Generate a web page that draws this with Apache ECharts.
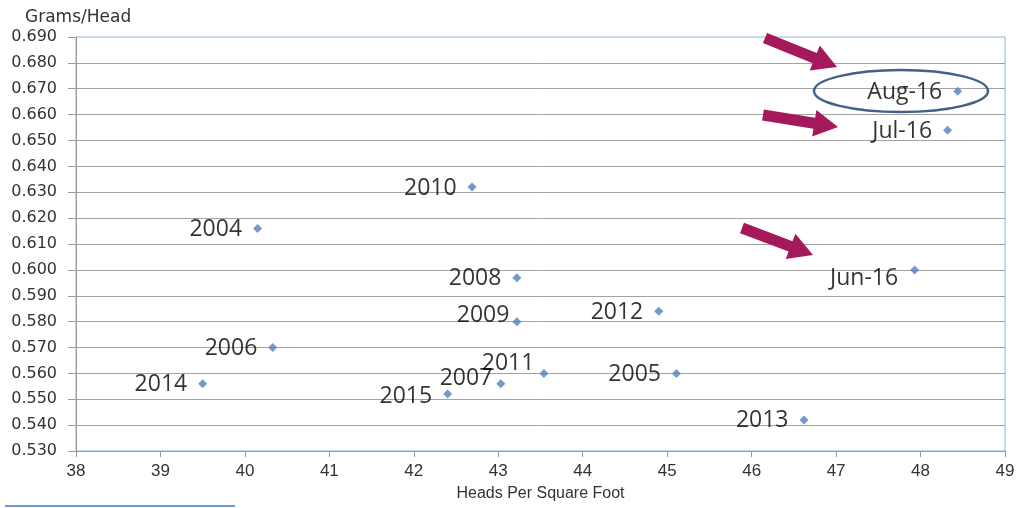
<!DOCTYPE html>
<html>
<head>
<meta charset="utf-8">
<script src="https://cdn.jsdelivr.net/npm/echarts@6/dist/echarts.min.js"></script>
<style>
  html, body { margin: 0; padding: 0; background: #fff; }
  #chart { width: 1022px; height: 508px; }
</style>
</head>
<body>
<div id="chart"></div>
<script>
  // point names and values
  const pointNames = ['Aug-16', 'Jul-16', 'Jun-16', '2010', '2004', '2008', '2009', '2012',
    '2006', '2011', '2005', '2007', '2014', '2015', '2013']
  const headsPerSqFt = [48.44, 48.32, 47.93, 42.69, 40.15, 43.22, 43.22, 44.90,
    40.33, 43.54, 45.11, 43.03, 39.50, 42.40, 46.62]
  const gramsPerHead = [0.669, 0.654, 0.600, 0.632, 0.616, 0.597, 0.580, 0.584,
    0.570, 0.560, 0.560, 0.556, 0.556, 0.552, 0.542]

  // label nudges for the crowded ones [dx, dy]
  const labelNudge = {
    'Jun-16': [-1, 9],
    '2009': [8, -6],
    '2011': [6, -10],
    '2007': [7, -5],
    '2015': [0, 2]
  }

  const arrowColor = '#a3195b'

  // build a filled arrow polygon from tail to tip
  function arrow (tail, tip) {
    const shaftW = 11
    const headW = 27
    const headL = 24
    const dx = tip[0] - tail[0]
    const dy = tip[1] - tail[1]
    const len = Math.sqrt(dx * dx + dy * dy)
    const ux = dx / len
    const uy = dy / len
    const nx = -uy
    const ny = ux
    const bx = tip[0] - ux * headL
    const by = tip[1] - uy * headL
    const p = (x, y, w) => [x + nx * w, y + ny * w]
    return {
      type: 'polygon',
      shape: {
        points: [
          p(tail[0], tail[1], shaftW / 2),
          p(bx, by, shaftW / 2),
          p(bx, by, headW / 2),
          tip,
          p(bx, by, -headW / 2),
          p(bx, by, -shaftW / 2),
          p(tail[0], tail[1], -shaftW / 2)
        ]
      },
      style: { fill: arrowColor },
      z: 100
    }
  }

  const chart = echarts.init(document.getElementById('chart'))

  const seriesData = pointNames.map((name, i) => {
    const item = { name: name, value: [headsPerSqFt[i], gramsPerHead[i]] }
    if (labelNudge[name]) {
      item.label = { offset: labelNudge[name] }
    }
    return item
  })

  chart.setOption({
    animation: false,
    backgroundColor: '#fff',
    title: {
      text: 'Grams/Head',
      left: 20,
      top: 4,
      textStyle: {
        fontFamily: 'DejaVu Sans',
        fontSize: 17,
        fontWeight: 'normal',
        color: '#333'
      }
    },
    grid: {
      left: 76,
      right: 17,
      top: 37,
      bottom: 57,
      outerBoundsMode: 'none',
      containLabel: false,
      show: true,
      borderColor: '#8fb3d9',
      borderWidth: 1,
      backgroundColor: 'transparent'
    },
    xAxis: {
      type: 'value',
      min: 38,
      max: 49,
      interval: 1,
      name: 'Heads Per Square Foot',
      nameLocation: 'middle',
      nameGap: 35,
      nameTextStyle: {
        fontFamily: 'Liberation Sans',
        fontSize: 16,
        color: '#333'
      },
      axisLine: { lineStyle: { color: '#9a9a9a', width: 1 } },
      axisTick: { show: true, length: 6, lineStyle: { color: '#9a9a9a' } },
      axisLabel: {
        fontFamily: 'Liberation Sans',
        fontSize: 17,
        color: '#333',
        margin: 12
      },
      splitLine: { show: false }
    },
    yAxis: {
      type: 'value',
      min: 0.53,
      max: 0.69,
      interval: 0.01,
      axisLine: { show: true, lineStyle: { color: '#9a9a9a', width: 1 } },
      axisTick: { show: true, length: 8, lineStyle: { color: '#9a9a9a' } },
      axisLabel: {
        fontFamily: 'DejaVu Sans',
        fontSize: 16,
        color: '#333',
        margin: 19,
        formatter: v => v.toFixed(3)
      },
      splitLine: {
        show: true,
        showMaxLine: false,
        lineStyle: { color: '#a3a3a3', width: 1 }
      }
    },
    series: [{
      type: 'scatter',
      symbol: 'diamond',
      symbolSize: [9, 9],
      itemStyle: { color: '#4f81bd' },
      label: {
        show: true,
        position: 'left',
        distance: 11,
        offset: [0, 1],
        formatter: p => p.name,
        fontFamily: 'Open Sans',
        fontSize: 23,
        color: '#000'
      },
      data: seriesData,
      z: 10
    }],
    graphic: [
      arrow([765, 38], [837, 67]),
      arrow([763, 115], [838, 127]),
      arrow([742, 228], [813, 255]),
      {
        type: 'ellipse',
        shape: { cx: 901, cy: 91, rx: 87, ry: 21 },
        style: { fill: 'none', stroke: '#41618a', lineWidth: 2.5 },
        z: 100
      },
      {
        type: 'line',
        shape: { x1: 5, y1: 506, x2: 235, y2: 506 },
        style: { stroke: '#6a9bc9', lineWidth: 2 }
      }
    ]
  })
</script>
</body>
</html>
